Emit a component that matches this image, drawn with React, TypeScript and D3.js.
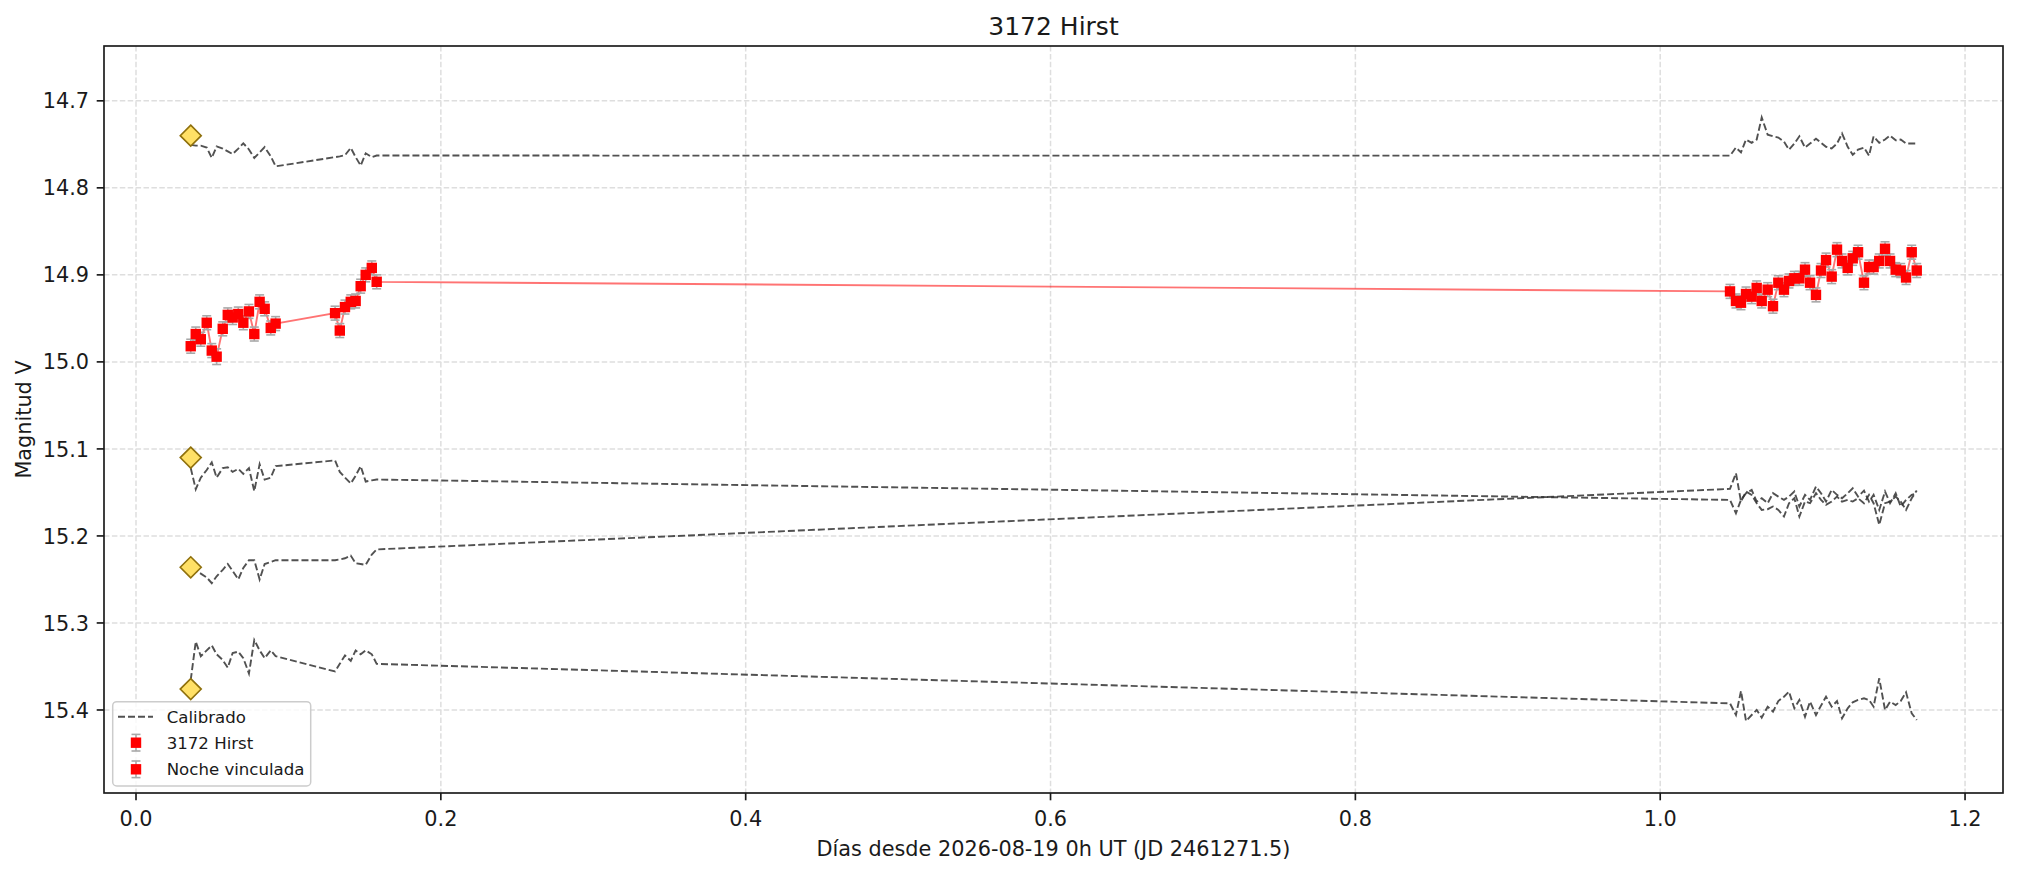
import React from "react";
import * as d3 from "d3";

// ---- data ----
const nightX1 = [0.0359, 0.0392, 0.0425, 0.0464, 0.0497, 0.0529, 0.0569, 0.0602, 0.0634, 0.0671, 0.0704, 0.0741, 0.0776, 0.0811, 0.0844, 0.0884, 0.0916, 0.1306, 0.1337, 0.1371, 0.1409, 0.1441, 0.1474, 0.1507, 0.1547, 0.1579];
const nightY1 = [14.982, 14.968, 14.974, 14.955, 14.987, 14.994, 14.962, 14.946, 14.949, 14.945, 14.955, 14.942, 14.968, 14.931, 14.939, 14.961, 14.956, 14.944, 14.964, 14.937, 14.931, 14.930, 14.913, 14.900, 14.892, 14.908];
const nightE1 = [0.008, 0.008, 0.008, 0.008, 0.008, 0.009, 0.008, 0.008, 0.008, 0.008, 0.008, 0.008, 0.008, 0.008, 0.008, 0.008, 0.008, 0.008, 0.008, 0.008, 0.008, 0.008, 0.008, 0.008, 0.008, 0.008];

const nightX2 = [1.0458, 1.0497, 1.0530, 1.0563, 1.0600, 1.0633, 1.0666, 1.0705, 1.0740, 1.0775, 1.0812, 1.0845, 1.0880, 1.0913, 1.0950, 1.0983, 1.1022, 1.1055, 1.1088, 1.1125, 1.1160, 1.1193, 1.1230, 1.1263, 1.1298, 1.1337, 1.1370, 1.1400, 1.1437, 1.1475, 1.1508, 1.1545, 1.1578, 1.1613, 1.1650, 1.1683];
const nightY2 = [14.919, 14.930, 14.932, 14.922, 14.925, 14.915, 14.930, 14.917, 14.936, 14.909, 14.917, 14.907, 14.904, 14.904, 14.894, 14.909, 14.923, 14.895, 14.883, 14.902, 14.871, 14.884, 14.892, 14.881, 14.874, 14.909, 14.891, 14.891, 14.884, 14.870, 14.884, 14.894, 14.895, 14.903, 14.874, 14.895];
const nightE2 = [0.008, 0.008, 0.008, 0.008, 0.008, 0.008, 0.008, 0.008, 0.008, 0.008, 0.008, 0.008, 0.008, 0.008, 0.008, 0.008, 0.008, 0.008, 0.008, 0.008, 0.008, 0.008, 0.008, 0.008, 0.008, 0.008, 0.008, 0.008, 0.008, 0.008, 0.008, 0.008, 0.008, 0.008, 0.008, 0.008];

const compA = [14.7506, 14.7515, 14.7515, 14.7537, 14.7656, 14.7524, 14.755, 14.7581, 14.7612, 14.755, 14.7488, 14.7559, 14.7656, 14.7594, 14.7532, 14.7638, 14.7753, 14.7647, 14.7638, 14.7625, 14.7541, 14.7647, 14.7744, 14.7603, 14.7647, 14.7629,
  14.763, 14.7537, 14.7593, 14.7445, 14.7482, 14.7445, 14.7191, 14.7389, 14.7408, 14.7422, 14.7468, 14.7561, 14.7491, 14.7408, 14.7537, 14.7491, 14.7436, 14.7482, 14.7528, 14.7547, 14.7491, 14.7376, 14.7528, 14.7621, 14.7561, 14.7537, 14.763, 14.7408, 14.7482, 14.7445, 14.7399, 14.7454, 14.7445, 14.7491, 14.7491, 14.7491];
const compB = [15.122, 15.1463, 15.133, 15.1242, 15.1154, 15.133, 15.122, 15.1211, 15.1264, 15.1229, 15.1286, 15.122, 15.1485, 15.1176, 15.1352, 15.133, 15.1198, 15.1132, 15.1264, 15.133, 15.1397, 15.1308, 15.1198, 15.1375, 15.1361, 15.1352,
  15.1586, 15.1739, 15.1586, 15.1509, 15.1471, 15.1605, 15.1567, 15.1624, 15.1509, 15.1548, 15.1586, 15.1548, 15.149, 15.1662, 15.1528, 15.1586, 15.1433, 15.1509, 15.1605, 15.1471, 15.1528, 15.1567, 15.1509, 15.1452, 15.1548, 15.1479, 15.1605, 15.1528, 15.1701, 15.149, 15.1624, 15.1509, 15.1662, 15.1586, 15.1528, 15.1509];
const compC = [15.2389, 15.2402, 15.2433, 15.2477, 15.2543, 15.2464, 15.2389, 15.2323, 15.2402, 15.2499, 15.2367, 15.2279, 15.2279, 15.2499, 15.2323, 15.2301, 15.2279, 15.2279, 15.227, 15.2257, 15.2226, 15.2314, 15.2323, 15.2332, 15.2213, 15.2155,
  15.1459, 15.1279, 15.1605, 15.149, 15.1528, 15.1624, 15.1701, 15.1693, 15.1662, 15.1701, 15.1777, 15.1624, 15.1567, 15.1777, 15.1605, 15.1624, 15.1509, 15.1586, 15.1643, 15.1605, 15.1548, 15.1605, 15.1586, 15.1605, 15.1567, 15.1624, 15.1528, 15.1624, 15.1873, 15.1624, 15.1605, 15.1548, 15.1605, 15.1701, 15.1567, 15.1479];
const compD = [15.3655, 15.3214, 15.3382, 15.3315, 15.3258, 15.336, 15.3426, 15.3514, 15.3346, 15.3329, 15.3404, 15.358, 15.3196, 15.3315, 15.3404, 15.3315, 15.3382, 15.3558, 15.347, 15.3373, 15.3435, 15.3315, 15.336, 15.3315, 15.336, 15.347,
  15.3924, 15.4058, 15.3782, 15.4127, 15.4058, 15.4, 15.4088, 15.3962, 15.4019, 15.3897, 15.3847, 15.3789, 15.3981, 15.3885, 15.4077, 15.3904, 15.4058, 15.395, 15.3847, 15.3962, 15.3897, 15.4096, 15.3981, 15.3912, 15.3885, 15.3866, 15.3885, 15.3962, 15.3636, 15.4, 15.3904, 15.3943, 15.3897, 15.3797, 15.4039, 15.4115];
const refX = 0.0359;
const refMags = [14.74, 15.11, 15.236, 15.376];

const xTicks = [0.0, 0.2, 0.4, 0.6, 0.8, 1.0, 1.2];
const yTicks = [14.7, 14.8, 14.9, 15.0, 15.1, 15.2, 15.3, 15.4];
const legendLabels = ["Calibrado", "3172 Hirst", "Noche vinculada"];
const titleText = "3172 Hirst";
const xLabel = "Días desde 2026-08-19 0h UT (JD 2461271.5)";
const yLabel = "Magnitud V";

// ---- layout ----
const W = 2018, H = 873;
const L = 104, R = 2003, T = 46, B = 793;
const FONT = "'DejaVu Sans', sans-serif";
const FS = 20.8;

export default function App() {
  const x = d3.scaleLinear().domain([-0.021, 1.2249]).range([L, R]);
  const y = d3.scaleLinear().domain([14.637, 15.4954]).range([T, B]);
  const allX = [...nightX1, ...nightX2];
  const allY = [...nightY1, ...nightY2];
  const line = d3.line<[number, number]>().x(d => x(d[0])).y(d => y(d[1]));
  const comps = [compA, compB, compC, compD];

  const target1 = nightX1.map((v, i) => ({ x: v, y: nightY1[i], e: nightE1[i] }));
  const target2 = nightX2.map((v, i) => ({ x: v, y: nightY2[i], e: nightE2[i] }));

  const errMarks = (pts: { x: number; y: number; e: number }[], key: string) =>
    pts.map((p, i) => {
      const cx = x(p.x);
      const y0 = y(p.y - p.e), y1 = y(p.y + p.e);
      return (
        <g key={key + i} stroke="#a8a8a8" strokeWidth={1.6}>
          <line x1={cx} x2={cx} y1={y0} y2={y1} />
          <line x1={cx - 4.5} x2={cx + 4.5} y1={y0} y2={y0} />
          <line x1={cx - 4.5} x2={cx + 4.5} y1={y1} y2={y1} />
        </g>
      );
    });
  const sqMarks = (pts: { x: number; y: number }[], key: string) =>
    pts.map((p, i) => (
      <rect key={key + i} x={x(p.x) - 5.2} y={y(p.y) - 5.2} width={10.4} height={10.4} fill="#ff0000" />
    ));

  const lgX = 112.7, lgY = 701.7, lgW = 198, lgH = 84.3;
  const rowY = [716.7, 742.7, 769.3];

  return (
    <svg width={W} height={H} style={{ position: "absolute", left: 0, top: 0, background: "#fff" }} fontFamily={FONT}>
      <rect x={0} y={0} width={W} height={H} fill="#fff" />
      {/* grid */}
      <g stroke="#dedede" strokeWidth={1.5} strokeDasharray="5.5,2.4">
        {xTicks.map(t => <line key={"gx" + t} x1={x(t)} x2={x(t)} y1={T} y2={B} />)}
        {yTicks.map(t => <line key={"gy" + t} x1={L} x2={R} y1={y(t)} y2={y(t)} />)}
      </g>
      {/* comparison stars */}
      <g fill="none" stroke="#333" strokeOpacity={0.85} strokeWidth={1.9} strokeDasharray="7,3">
        {comps.map((c, k) => (
          <path key={"c" + k} d={line(allX.map((v, i) => [v, c[i]] as [number, number])) || ""} />
        ))}
      </g>
      {/* target line */}
      <path d={line(allX.map((v, i) => [v, allY[i]] as [number, number])) || ""} fill="none" stroke="#ff0000" strokeOpacity={0.55} strokeWidth={1.9} />
      {errMarks(target1, "e1")}
      {errMarks(target2, "e2")}
      {sqMarks(target1, "s1")}
      {sqMarks(target2, "s2")}
      {/* reference diamonds */}
      {refMags.map((m, i) => {
        const cx = x(refX), cy = y(m), r = 10.5;
        return (
          <path key={"d" + i} d={`M${cx},${cy - r}L${cx + r},${cy}L${cx},${cy + r}L${cx - r},${cy}Z`} fill="#ffe066" stroke="#8f700c" strokeWidth={1.6} />
        );
      })}
      {/* axes frame */}
      <rect x={L} y={T} width={R - L} height={B - T} fill="none" stroke="#1a1a1a" strokeWidth={1.67} />
      {/* x ticks */}
      {xTicks.map(t => (
        <g key={"xt" + t}>
          <line x1={x(t)} x2={x(t)} y1={B} y2={B + 7.3} stroke="#1a1a1a" strokeWidth={1.67} />
          <text x={x(t)} y={825.5} textAnchor="middle" fontSize={FS} fill="#1a1a1a">{t.toFixed(1)}</text>
        </g>
      ))}
      {/* y ticks */}
      {yTicks.map(t => (
        <g key={"yt" + t}>
          <line x1={L - 7.3} x2={L} y1={y(t)} y2={y(t)} stroke="#1a1a1a" strokeWidth={1.67} />
          <text x={89} y={y(t) + 7.6} textAnchor="end" fontSize={FS} fill="#1a1a1a">{t.toFixed(1)}</text>
        </g>
      ))}
      {/* labels */}
      <text x={(L + R) / 2} y={35} textAnchor="middle" fontSize={25} fill="#1a1a1a">{titleText}</text>
      <text x={(L + R) / 2} y={856} textAnchor="middle" fontSize={FS} fill="#1a1a1a">{xLabel}</text>
      <text transform={`translate(30.5,${(T + B) / 2}) rotate(-90)`} textAnchor="middle" fontSize={FS} fill="#1a1a1a">{yLabel}</text>
      {/* legend */}
      <g>
        <rect x={lgX} y={lgY} width={lgW} height={lgH} rx={4} fill="#fff" fillOpacity={0.8} stroke="#cccccc" strokeWidth={1.5} />
        <line x1={118} x2={153} y1={rowY[0]} y2={rowY[0]} stroke="#333" strokeOpacity={0.85} strokeWidth={1.9} strokeDasharray="7,3" />
        {[1, 2].map(k => (
          <g key={"lg" + k}>
            <g stroke="#a8a8a8" strokeWidth={1.6}>
              <line x1={136} x2={136} y1={rowY[k] - 8.3} y2={rowY[k] + 8.3} />
              <line x1={131.5} x2={140.5} y1={rowY[k] - 8.3} y2={rowY[k] - 8.3} />
              <line x1={131.5} x2={140.5} y1={rowY[k] + 8.3} y2={rowY[k] + 8.3} />
            </g>
            <rect x={130.8} y={rowY[k] - 5.2} width={10.4} height={10.4} fill="#ff0000" />
          </g>
        ))}
        {legendLabels.map((s, k) => (
          <text key={"lt" + k} x={166.7} y={rowY[k] + 6} fontSize={16.6} fill="#1a1a1a">{s}</text>
        ))}
      </g>
    </svg>
  );
}
